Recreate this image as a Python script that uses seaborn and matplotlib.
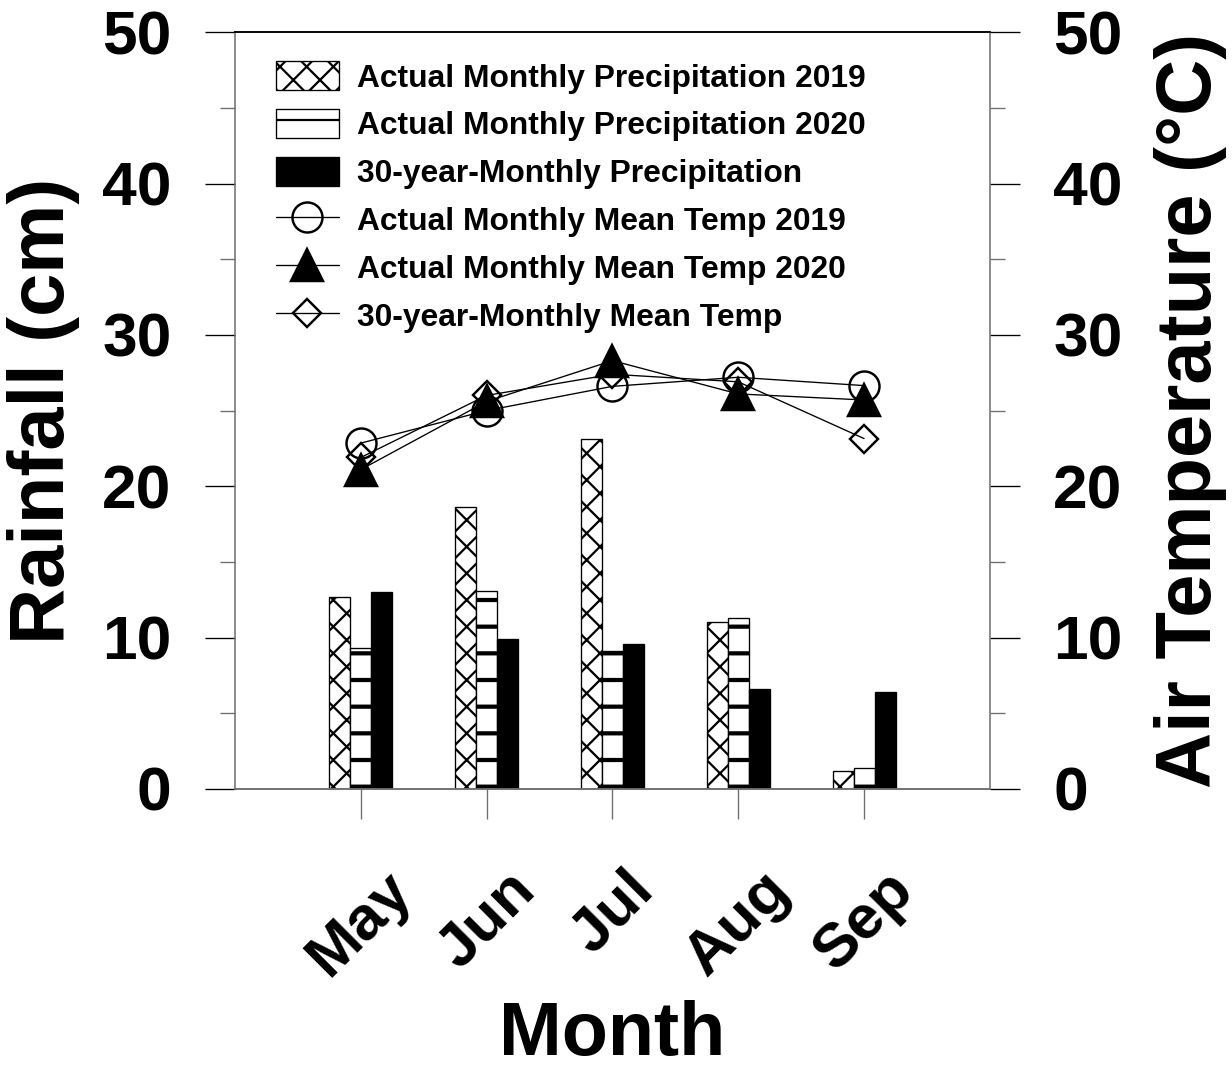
import numpy as np
import pandas as pd
import matplotlib
matplotlib.use("Agg")
import matplotlib.pyplot as plt
import seaborn as sns
from matplotlib.ticker import MultipleLocator

# Monthly rainfall (cm) and mean air temperature (degC)
months = ["May", "Jun", "Jul", "Aug", "Sep"]
rain_2019 = [12.7, 18.6, 23.1, 11.0, 1.2]
rain_2020 = [9.3, 13.1, 9.1, 11.3, 1.4]
rain_30yr = [13.0, 9.9, 9.6, 6.6, 6.4]
temp_2019 = [22.85, 25.0, 26.6, 27.2, 26.65]
temp_2020 = [21.1, 25.6, 28.3, 26.1, 25.7]
temp_30yr = [21.9, 26.0, 27.4, 26.9, 23.15]

rain_names = ["Actual Monthly Precipitation 2019",
              "Actual Monthly Precipitation 2020",
              "30-year-Monthly Precipitation"]
temp_names = ["Actual Monthly Mean Temp 2019",
              "Actual Monthly Mean Temp 2020",
              "30-year-Monthly Mean Temp"]

sns.set_style("ticks")
plt.rcParams["font.family"] = ["Liberation Sans", "DejaVu Sans"]
plt.rcParams["font.weight"] = "bold"
plt.rcParams["axes.labelweight"] = "bold"
plt.rcParams["text.color"] = "black"
plt.rcParams["axes.labelcolor"] = "black"
plt.rcParams["xtick.labelcolor"] = "black"
plt.rcParams["ytick.labelcolor"] = "black"
plt.rcParams["hatch.linewidth"] = 1.0

rain_df = pd.DataFrame({
    "Month": months * 3,
    "Rain": rain_2019 + rain_2020 + rain_30yr,
    "Series": np.repeat(rain_names, len(months)),
})

DPI = 160
fig = plt.figure(figsize=(1232 / DPI, 1072 / DPI), dpi=DPI)
ax = fig.add_axes([0.1907, 0.264, 0.6128, 0.706])

sns.barplot(data=rain_df, x="Month", y="Rain", hue="Series",
            hue_order=rain_names, order=months,
            palette=["white", "white", "black"], saturation=1,
            edgecolor="black", linewidth=0.6, width=0.5,
            legend=False, ax=ax)

hatches = ["xx", "-", None]
hatch_lw = [1.0, 1.9, 0.5]
bar_handles = []
for cont, h, hlw in zip(ax.containers, hatches, hatch_lw):
    for bar in cont:
        if h:
            bar.set_hatch(h)
        if hasattr(bar, "set_hatch_linewidth"):
            bar.set_hatch_linewidth(hlw)
    bar_handles.append(cont.patches[0])

ax.set_xlim(-1, 5)
ax.set_ylim(0, 50)
ax.yaxis.set_major_locator(MultipleLocator(10))
ax.yaxis.set_minor_locator(MultipleLocator(5))

ax2 = ax.twinx()
pos = np.arange(len(months))
line_specs = [(temp_2019, "o", 13.5, "none"),
              (temp_2020, "^", 14.0, "black"),
              (temp_30yr, "D", 9.2, "none")]
line_handles = []
for vals, mk, ms, fc in line_specs:
    sns.lineplot(x=pos, y=vals, ax=ax2, color="black", linewidth=0.6,
                 marker=mk, markersize=ms, markerfacecolor=fc,
                 markeredgecolor="black", markeredgewidth=1.1)
    line_handles.append(ax2.lines[-1])
ax2.set_ylim(0, 50)
ax2.yaxis.set_major_locator(MultipleLocator(10))
ax2.yaxis.set_minor_locator(MultipleLocator(5))

spine_grey = "#6e6e6e"
for a in (ax, ax2):
    for s in ("left", "right", "bottom"):
        a.spines[s].set_color(spine_grey)
        a.spines[s].set_linewidth(0.7)
    a.spines["top"].set_color("black")
    a.spines["top"].set_linewidth(0.7)
    a.tick_params(axis="y", which="major", length=13.5, width=0.6,
                  color="black", pad=15, labelsize=28, labelcolor="black")
    a.tick_params(axis="y", which="minor", length=6.75, width=0.6,
                  color=spine_grey)
ax2.spines["left"].set_visible(False)
ax.spines["right"].set_visible(False)

ax.tick_params(axis="x", which="major", length=13.5, width=0.6,
               color=spine_grey, pad=19, labelsize=28, labelcolor="black")
for lbl in ax.get_xticklabels():
    lbl.set_rotation(45)
    lbl.set_ha("center")
    lbl.set_va("top")
    lbl.set_fontweight("bold")
for a in (ax, ax2):
    for lbl in a.get_yticklabels():
        lbl.set_fontweight("bold")

ax.set_xlabel("Month", fontsize=34, fontweight="bold", labelpad=6)
ax.set_ylabel("Rainfall (cm)", fontsize=35, fontweight="bold", labelpad=10)
ax2.set_ylabel("Air Temperature (°C)", fontsize=35, fontweight="bold",
               labelpad=14)

ax2.legend(handles=bar_handles + line_handles, labels=rain_names + temp_names,
           loc="upper left", bbox_to_anchor=(0.054, 0.962),
           frameon=False, borderpad=0, borderaxespad=0,
           handlelength=2.0, handleheight=1.05, handletextpad=0.55,
           labelspacing=0.48, prop={"size": 14.3, "weight": "bold"})

fig.savefig("out.png", dpi=DPI)
